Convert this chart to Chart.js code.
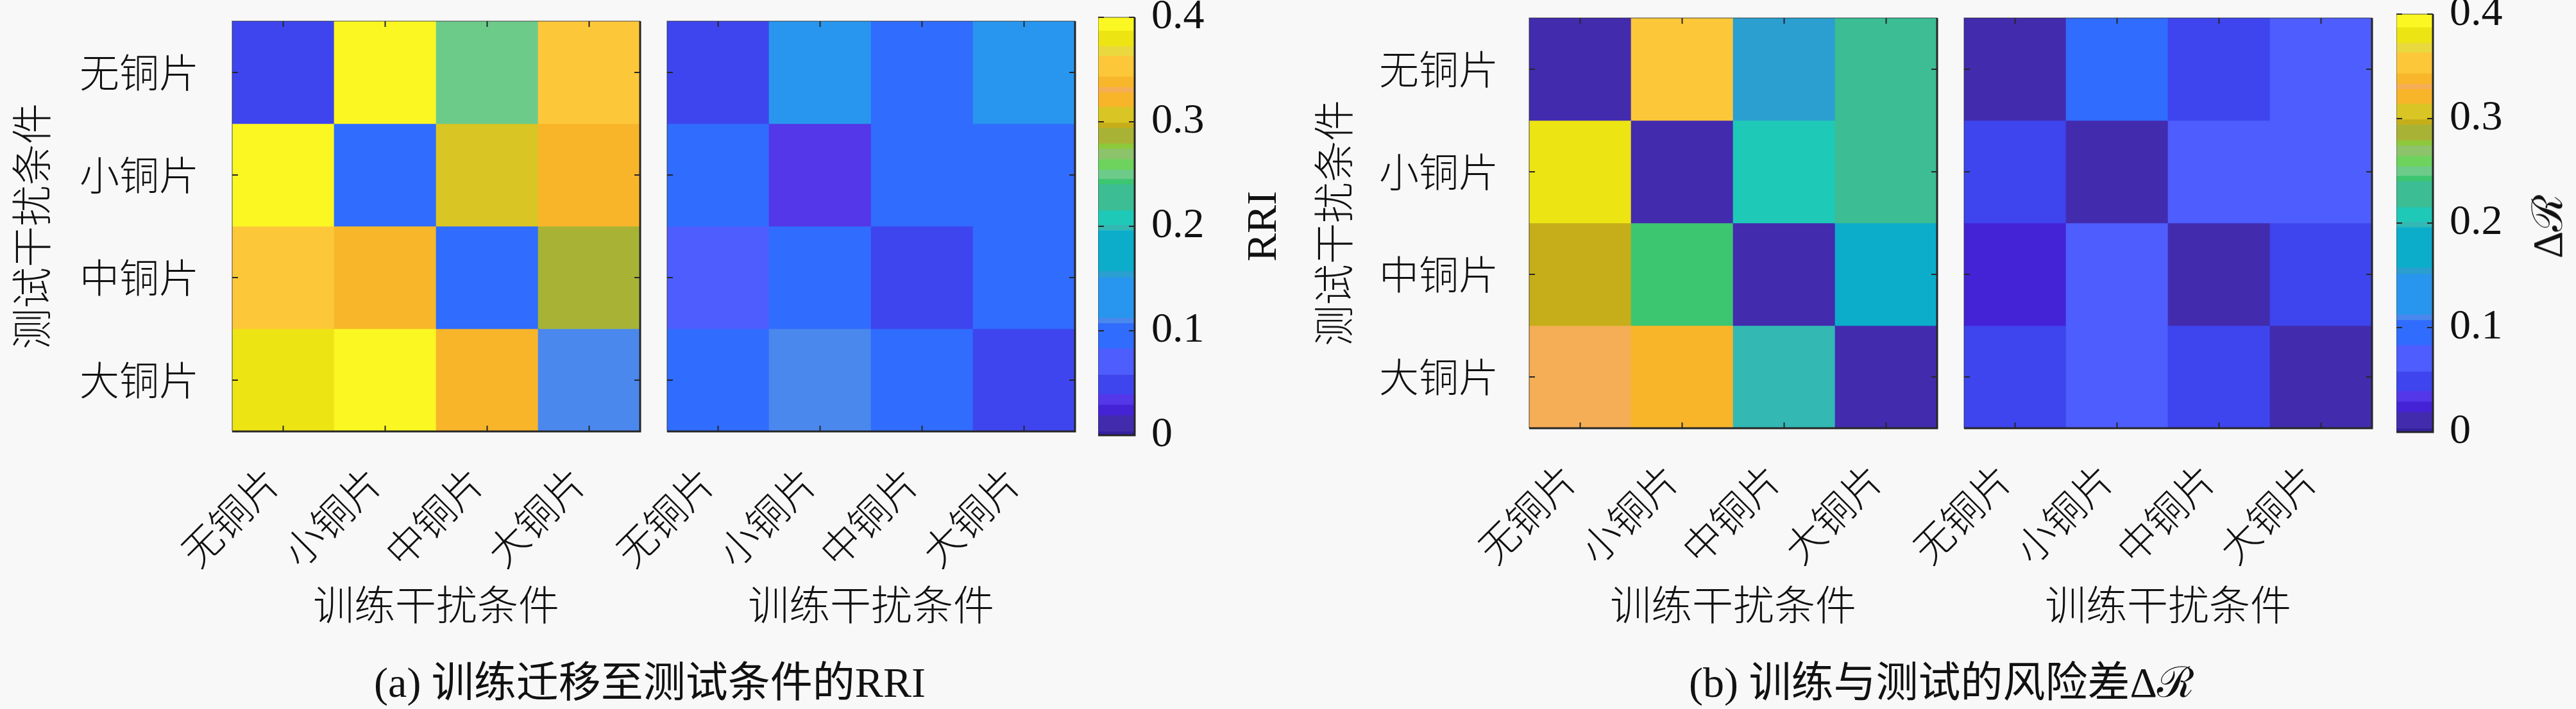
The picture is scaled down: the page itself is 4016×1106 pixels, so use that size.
<!DOCTYPE html>
<html>
<head>
<meta charset="utf-8">
<script src="https://cdn.jsdelivr.net/npm/chart.js@4.4.1/dist/chart.umd.min.js"></script>
<style>
  html, body { margin: 0; padding: 0; background: #f8f8f8; }
  #page { position: relative; width: 4016px; height: 1106px; overflow: hidden; background: #f8f8f8; }
  canvas { position: absolute; }
  .lbl { position: absolute; white-space: nowrap; color: #111; transform: translate(-50%, -50%);
         font-family: "Liberation Serif", "DejaVu Serif", "Noto Sans CJK SC", serif; }
</style>
</head>
<body>
<div id="page">
  <canvas id="hmA1"></canvas>
  <canvas id="hmA2"></canvas>
  <canvas id="cbA"></canvas>
  <canvas id="hmB1"></canvas>
  <canvas id="hmB2"></canvas>
  <canvas id="cbB"></canvas>
  <div class="lbl" style="left:1967px; top:353px; font-size:66px; transform:translate(-50%,-50%) rotate(-90deg);">RRI</div>
  <div class="lbl" style="left:3968px; top:353px; font-size:66px; transform:translate(-50%,-50%) rotate(-90deg);">Δℛ</div>
  <div class="lbl" style="left:1013px; top:1058px; font-size:66px;">(a) 训练迁移至测试条件的RRI</div>
  <div class="lbl" style="left:3027px; top:1058px; font-size:66px;">(b) 训练与测试的风险差Δℛ</div>
</div>
<script>
// categories (columns = training condition, rows = test condition)
const trainLabels = ["无铜片", "小铜片", "中铜片", "大铜片"];
const testLabels = ["无铜片", "小铜片", "中铜片", "大铜片"];
const colorTicks = [0, 0.1, 0.2, 0.3, 0.4];

// (a) RRI, left and right maps
const rriA = [
  [0.05, 0.395, 0.25, 0.35],
  [0.395, 0.095, 0.305, 0.32],
  [0.35, 0.338, 0.095, 0.287],
  [0.38, 0.395, 0.32, 0.11],
];
const rriB = [
  [0.05, 0.13, 0.095, 0.13],
  [0.095, 0.034, 0.095, 0.095],
  [0.07, 0.095, 0.05, 0.095],
  [0.095, 0.11, 0.095, 0.05],
];

// (b) risk difference, left and right maps
const dRA = [
  [0.01, 0.35, 0.154, 0.227],
  [0.38, 0.01, 0.208, 0.227],
  [0.296, 0.242, 0.01, 0.175],
  [0.33, 0.32, 0.198, 0.01],
];
const dRB = [
  [0.01, 0.095, 0.05, 0.07],
  [0.05, 0.01, 0.07, 0.07],
  [0.024, 0.07, 0.01, 0.05],
  [0.05, 0.07, 0.05, 0.01],
];

// stepped colormap as seen on the colorbar
const cmapEdges = [0, 0.004, 0.019, 0.029, 0.039, 0.058, 0.083, 0.107, 0.112, 0.151, 0.157,
  0.196, 0.201, 0.215, 0.240, 0.245, 0.254, 0.264, 0.274, 0.279, 0.294, 0.299, 0.314,
  0.328, 0.333, 0.343, 0.363, 0.372, 0.387, 0.4];
const cmapColors = ["#3521a0", "#432bae", "#4422d6", "#5337e8", "#3e45ee", "#4e5dfe", "#306cfe",
  "#4a88ee", "#2896ee", "#2a9fd0", "#0badcb", "#33b8b4", "#1fc9b8", "#3cbd93", "#3dc670",
  "#6dcb8a", "#6dd35c", "#8dc36a", "#8dc93a", "#a8b336", "#c6ae1a", "#d9c524", "#f8b52a",
  "#f5ae55", "#f8b62a", "#fdc73a", "#e9d93e", "#ede414", "#fbf723"];

function bandColor(v) {
  for (let i = 0; i < cmapColors.length; i++) {
    if (v < cmapEdges[i + 1]) return cmapColors[i];
  }
  return cmapColors[cmapColors.length - 1];
}

const cjk = size => ({ family: '"Noto Sans CJK SC", sans-serif', size: size, weight: 300 });
const serif = size => ({ family: '"Liberation Serif", "DejaVu Serif", serif', size: size });

// axes box with small inward ticks, like the original figure
const boxPlugin = {
  id: "box",
  afterDatasetsDraw(chart) {
    const { ctx, chartArea: a } = chart;
    ctx.save();
    ctx.strokeStyle = "rgba(40,40,40,0.55)";
    ctx.lineWidth = 1.5;
    ctx.beginPath();
    ctx.moveTo(a.left, a.bottom); ctx.lineTo(a.left, a.top); ctx.lineTo(a.right, a.top);
    ctx.stroke();
    ctx.strokeStyle = "#262626";
    ctx.lineWidth = 3;
    ctx.beginPath();
    ctx.moveTo(a.left, a.bottom); ctx.lineTo(a.right, a.bottom); ctx.lineTo(a.right, a.top);
    ctx.stroke();
    ctx.lineWidth = 2;
    ctx.beginPath();
    const xs = chart.scales.x, ys = chart.scales.y;
    if (xs.options.display !== false) {
      xs.ticks.forEach((t, i) => {
        const px = xs.getPixelForTick(i);
        ctx.moveTo(px, a.bottom); ctx.lineTo(px, a.bottom - 9);
        ctx.moveTo(px, a.top); ctx.lineTo(px, a.top + 9);
      });
    }
    ys.ticks.forEach(t => {
      const py = ys.getPixelForValue(t.value);
      ctx.moveTo(a.left, py); ctx.lineTo(a.left + 9, py);
      ctx.moveTo(a.right, py); ctx.lineTo(a.right - 9, py);
    });
    ctx.stroke();
    ctx.restore();
  }
};

function place(canvas, left, top, width, height) {
  canvas.width = width; canvas.height = height;
  canvas.style.left = left + "px"; canvas.style.top = top + "px";
  canvas.style.width = width + "px"; canvas.style.height = height + "px";
}

function heatmap(id, values, area, opt) {
  const canvas = document.getElementById(id);
  const height = 1000;
  const left = area.left - opt.lead;
  const width = area.right - left + 4;
  place(canvas, left, 0, width, height);
  new Chart(canvas, {
    type: "bar",
    data: {
      labels: trainLabels,
      datasets: testLabels.map((name, r) => ({
        label: name,
        data: trainLabels.map(() => [r, r + 1]),
        backgroundColor: values[r].map(bandColor),
        borderWidth: 0,
        grouped: false,
        barPercentage: 1,
        categoryPercentage: 1,
      })),
    },
    options: {
      responsive: false,
      animation: false,
      devicePixelRatio: 1,
      layout: { padding: { left: opt.showY ? 0 : opt.lead, top: area.top, right: 4, bottom: 0 } },
      plugins: { legend: { display: false }, tooltip: { enabled: false } },
      scales: {
        x: {
          grid: { display: false, drawTicks: false },
          border: { display: false },
          ticks: {
            autoSkip: false, minRotation: 45, maxRotation: 45, padding: 41, labelOffset: -17,
            color: "#111", font: cjk(62),
          },
          title: { display: true, text: "训练干扰条件", color: "#111", font: cjk(64), padding: { top: 0, bottom: 19 } },
          afterFit: s => { s.height = height - area.bottom; s.paddingLeft = 0; s.paddingRight = 0; },
        },
        y: {
          type: "linear", min: 0, max: 4, reverse: true,
          display: opt.showY,
          grid: { display: false, drawTicks: false },
          border: { display: false },
          afterBuildTicks: s => { s.ticks = testLabels.map((n, i) => ({ value: i + 0.5 })); },
          ticks: { padding: opt.tickPad, color: "#111", font: cjk(62), callback: v => testLabels[Math.floor(v)] },
          title: { display: true, text: "测试干扰条件", color: "#111", font: cjk(64), padding: { top: opt.titlePad, bottom: 0 } },
          afterFit: s => {
            s.width = opt.showY ? opt.lead : 0;
            s.paddingTop = 0; s.paddingBottom = 0;
          },
        },
      },
    },
    plugins: [boxPlugin],
  });
}

function colorbar(id, area) {
  const canvas = document.getElementById(id);
  const pad = 60, axisW = 160;
  const width = area.right - area.left + axisW;
  const height = area.bottom - area.top + 2 * pad;
  place(canvas, area.left, area.top - pad, width, height);
  new Chart(canvas, {
    type: "bar",
    data: {
      labels: [""],
      datasets: cmapColors.map((c, i) => ({
        data: [[cmapEdges[i], cmapEdges[i + 1]]],
        backgroundColor: c,
        borderWidth: 0,
        grouped: false,
        barPercentage: 1,
        categoryPercentage: 1,
      })),
    },
    options: {
      responsive: false,
      animation: false,
      devicePixelRatio: 1,
      layout: { padding: { left: 0, top: pad, right: 0, bottom: pad } },
      plugins: { legend: { display: false }, tooltip: { enabled: false } },
      scales: {
        x: { display: false },
        y: {
          position: "right", min: 0, max: 0.4,
          grid: { display: false, drawTicks: false },
          border: { display: false },
          afterBuildTicks: s => { s.ticks = colorTicks.map(v => ({ value: v })); },
          ticks: { padding: 26, color: "#111", font: serif(66), callback: v => (v === 0 ? "0" : v.toFixed(1)) },
          afterFit: s => { s.width = axisW; s.paddingTop = 0; s.paddingBottom = 0; },
        },
      },
    },
    plugins: [boxPlugin],
  });
}

heatmap("hmA1", rriA, { left: 362, right: 998, top: 33, bottom: 673 }, { showY: true, lead: 362, tickPad: 52, titlePad: 10 });
heatmap("hmA2", rriB, { left: 1040, right: 1676, top: 33, bottom: 673 }, { showY: false, lead: 160 });
colorbar("cbA", { left: 1712, right: 1769, top: 27, bottom: 679 });
heatmap("hmB1", dRA, { left: 2384, right: 3020, top: 28, bottom: 668 }, { showY: true, lead: 362, tickPad: 48, titlePad: 18 });
heatmap("hmB2", dRB, { left: 3062, right: 3698, top: 28, bottom: 668 }, { showY: false, lead: 160 });
colorbar("cbB", { left: 3736, right: 3793, top: 22, bottom: 674 });
</script>
</body>
</html>
